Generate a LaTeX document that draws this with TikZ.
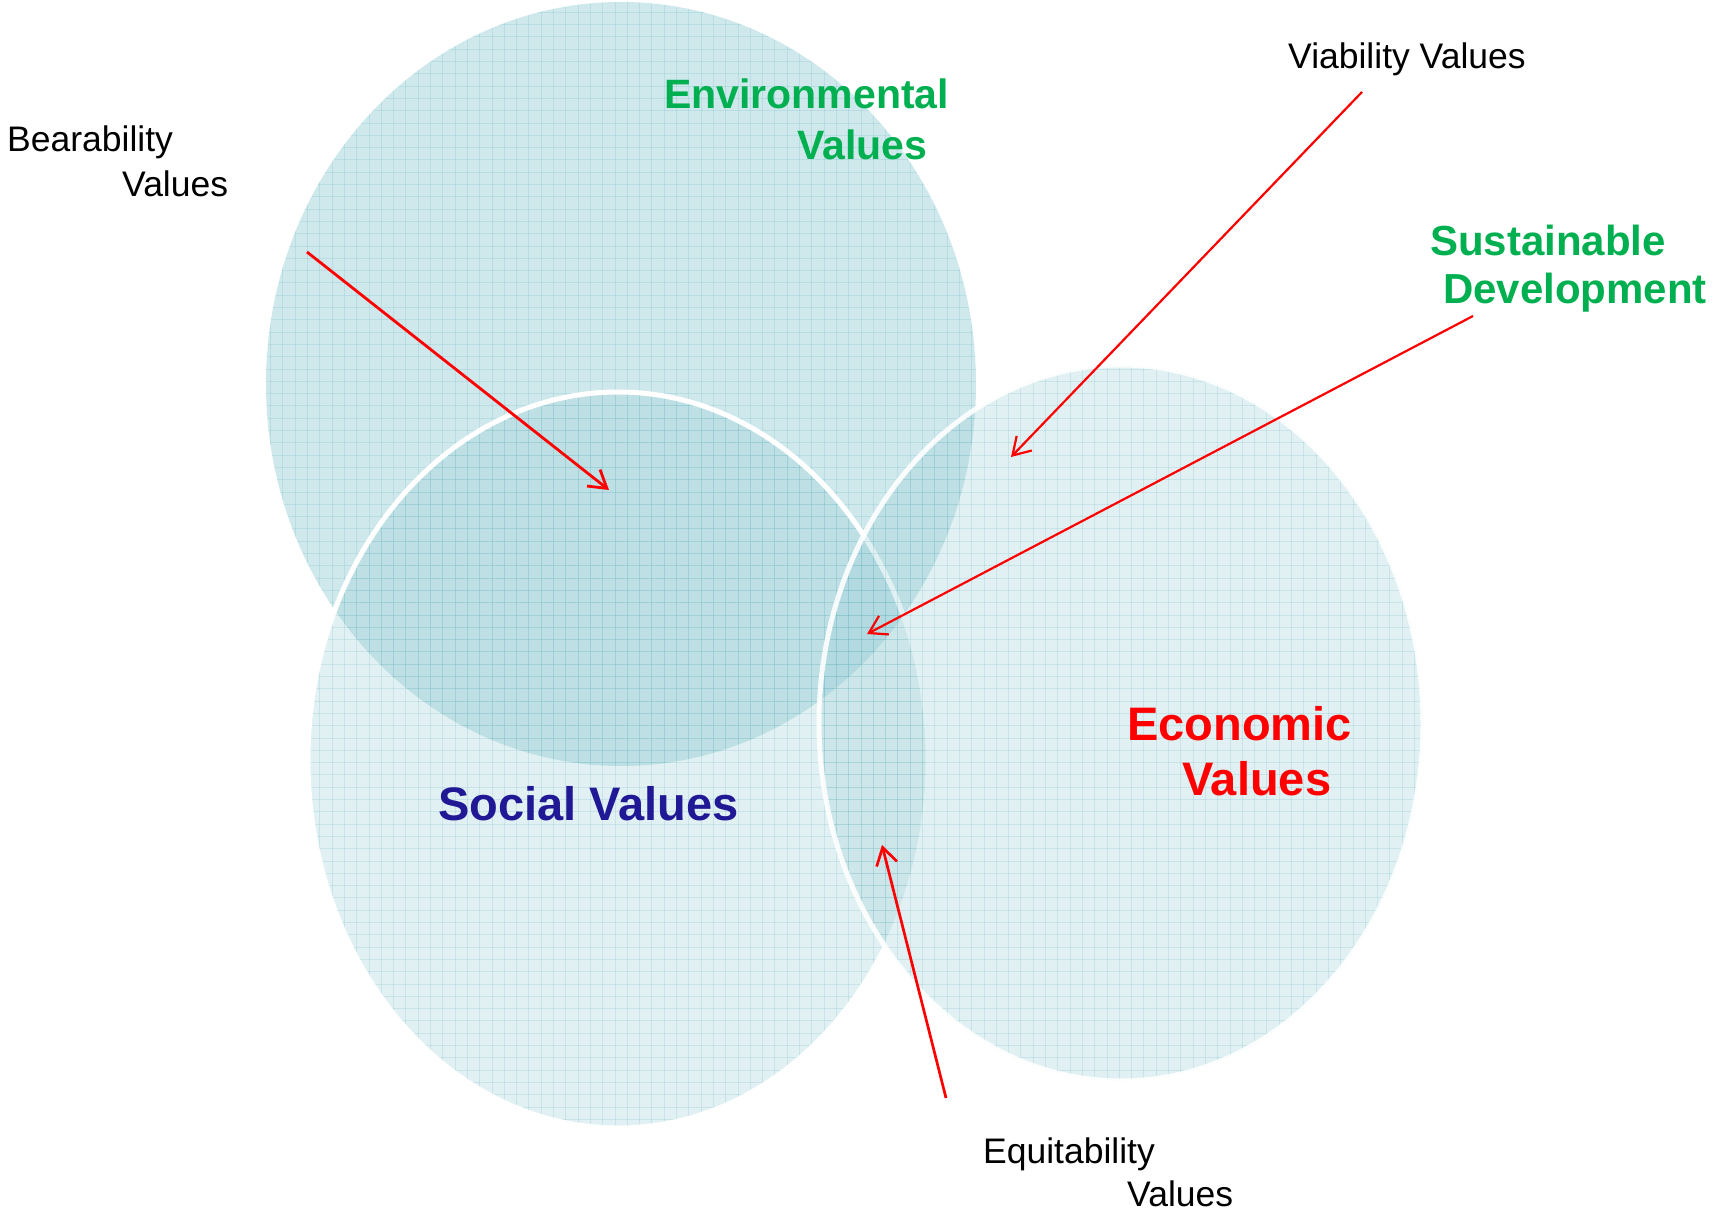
\documentclass[tikz,border=0pt]{standalone}
\usepackage{fontspec}
\setmainfont{Liberation Sans}
\usetikzlibrary{arrows.meta}
\definecolor{envfill}{RGB}{140,202,210}
\definecolor{socfill}{RGB}{150,205,212}
\definecolor{gridc}{RGB}{100,180,190}
\definecolor{pgreen}{RGB}{0,176,80}
\definecolor{pred}{RGB}{255,0,0}
\definecolor{pnavy}{RGB}{32,24,148}
\tikzset{
  gridline/.style={draw=gridc, line width=0.9pt, opacity=0.2},
  plain/.style={inner sep=0pt, anchor=base west, font=\fontsize{35.5}{42}\selectfont},
  boldlab/.style={inner sep=0pt, anchor=base west, font=\fontsize{#1}{#1}\selectfont\bfseries},
  redarrow/.style={draw=pred, line width=#1, -{Straight Barb[length=17pt,width=21pt,line width=#1]}},
}
\newcommand{\gridfill}{%
  \foreach \i in {0,...,140} {\draw[gridline] ({\i*12.3},0) -- ({\i*12.3},1217);}
  \foreach \j in {0,...,99} {\draw[gridline] (0,{\j*12.3}) -- (1716,{\j*12.3});}
}
\begin{document}
\begin{tikzpicture}[x=1pt,y=-1pt]
\useasboundingbox (0,0) rectangle (1716,1217);
\fill[white] (0,0) rectangle (1716,1217);
% Environmental ellipse
\fill[envfill, opacity=0.42] (621,384) ellipse [x radius=355pt, y radius=382pt];
\begin{scope}
  \clip (621,384) ellipse [x radius=355pt, y radius=382pt];
  \gridfill
\end{scope}
% Social ellipse
\fill[socfill, opacity=0.28] (618,760) ellipse [x radius=310pt, y radius=368pt];
\begin{scope}
  \clip (618,760) ellipse [x radius=310pt, y radius=368pt];
  \gridfill
\end{scope}
\draw[white, line width=5pt] (618,760) ellipse [x radius=310pt, y radius=368pt];
% Economic ellipse
\fill[socfill, opacity=0.28] (1121,723) ellipse [x radius=302pt, y radius=358pt];
\begin{scope}
  \clip (1121,723) ellipse [x radius=302pt, y radius=358pt];
  \gridfill
\end{scope}
\draw[white, line width=5pt, opacity=0.9] (1121,723) ellipse [x radius=302pt, y radius=358pt];

% Labels
\node[plain] (bear1) at (7,152) {Bearability};
\node[plain] (bear2) at (122,197) {Values};
\node[plain] (via) at (1288,69) {Viability Values};
\node[plain] (equ1) at (983,1163) {Equitability};
\node[plain] (equ2) at (1127,1206) {Values};
\node[boldlab=41, text=pgreen] (env1) at (664,109) {Environmental};
\node[boldlab=41, text=pgreen] (env2) at (797,160) {Values};
\node[boldlab=42, text=pgreen] (sus1) at (1430,255) {Sustainable};
\node[boldlab=42, text=pgreen] (sus2) at (1443,303) {Development};
\node[boldlab=47, text=pred] (eco1) at (1127,740) {Economic};
\node[boldlab=47, text=pred] (eco2) at (1182,795) {Values};
\node[boldlab=47, text=pnavy] (soc) at (438,820) {Social Values};

% Arrow coordinates
\coordinate (bearS) at (307,252);
\coordinate (bearT) at (609,490);
\coordinate (viaS) at (1362,92);
\coordinate (viaT) at (1011,457);
\coordinate (susS) at (1473,316);
\coordinate (susT) at (867,634);
\coordinate (equS) at (946,1098);
\coordinate (equT) at (882,845);

\draw[redarrow=2.8pt] (bearS) -- (bearT);
\draw[redarrow=2.2pt] (viaS) -- (viaT);
\draw[redarrow=2.2pt] (susS) -- (susT);
\draw[redarrow=2.7pt] (equS) -- (equT);
\end{tikzpicture}
\end{document}
